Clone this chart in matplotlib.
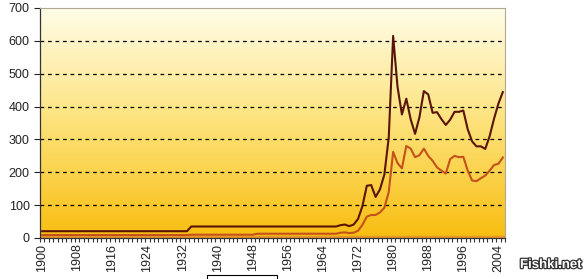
import numpy as np
import matplotlib
matplotlib.use('Agg')
import matplotlib.pyplot as plt
import matplotlib.patheffects as pe
from matplotlib.colors import LinearSegmentedColormap
from matplotlib.patches import Rectangle

plt.rcParams['font.family'] = ['Liberation Sans', 'DejaVu Sans']

years = list(range(1900, 2006))

# upper (dark) series, 1900-2005
dark = [20.7, 20.7, 20.7, 20.7, 20.7, 20.7, 20.7, 20.7, 20.7, 20.7,
        20.7, 20.7, 20.7, 20.7, 20.7, 20.7, 20.7, 20.7, 20.7, 20.7,
        20.7, 20.7, 20.7, 20.7, 20.7, 20.7, 20.7, 20.7, 20.7, 20.7,
        20.7, 20.7, 20.7, 20.7, 35, 35, 35, 35, 35, 35,
        35, 35, 35, 35, 35, 35, 35, 35, 35, 35,
        35, 35, 35, 35, 35, 35, 35, 35, 35, 35,
        35, 35, 35, 35, 35, 35, 35, 35, 39, 41,
        36, 41, 58, 97, 159, 161, 125, 148, 193, 306,
        615, 460, 376, 424, 361, 317, 368, 447, 437, 381,
        383, 362, 344, 360, 384, 384, 388, 331, 294, 279,
        279, 271, 310, 363, 409, 444]

# lower (orange) series, 1900-2005
light = [9, 9, 9, 9, 9, 9, 9, 9, 9, 9,
         9, 9, 9, 9, 9, 9, 9, 9, 9, 9,
         9, 9, 9, 9, 9, 9, 9, 9, 9, 9,
         9, 9, 9, 9, 10, 10, 10, 10, 10, 10,
         10, 10, 10, 10, 10, 10, 10, 10, 10, 13,
         13, 13, 13, 13, 13, 13, 13, 13, 13, 13,
         13, 13, 13, 13, 13, 13, 13, 13, 16, 17,
         15, 16, 22, 40, 65, 70, 70, 78, 92, 140,
         262, 228, 212, 280, 272, 246, 252, 272, 250, 235,
         215, 205, 196, 240, 250, 246, 247, 205, 175, 173,
         182, 190, 205, 222, 226, 245]

label_years = list(range(1900, 2006, 8))

fig = plt.figure(figsize=(5.87, 2.79), dpi=100)
fig.patch.set_facecolor('white')
ax = fig.add_axes([40 / 587, 41 / 279, 465 / 587, 230 / 279])

x = np.arange(len(years))
ax.set_xlim(-0.5, len(years) - 0.5)
ax.set_ylim(0, 700)

# yellow gradient background
cmap = LinearSegmentedColormap.from_list('bg', ['#f8be10', '#fde27a', '#fffde8'])
grad = np.linspace(0, 1, 256).reshape(-1, 1)
ax.imshow(grad, extent=(-0.5, len(years) - 0.5, 0, 700), origin='lower',
          aspect='auto', cmap=cmap, zorder=0)
ax.axhspan(0, 7, color='#e8962c', zorder=1)

for v in range(100, 700, 100):
    ax.axhline(v, color='black', lw=0.9, ls=(0, (3, 3)), zorder=2)

ax.plot(x, light, color='#c4521a', lw=1.5, zorder=3)
ax.plot(x, dark, color='#5a1408', lw=1.5, zorder=4)

ax.set_yticks(range(0, 701, 100))
ax.set_xticks([years.index(y) for y in label_years])
ax.set_xticklabels([str(y) for y in label_years], rotation=90)
ax.set_xticks(np.arange(-0.5, len(years)), minor=True)
ax.tick_params(axis='x', which='major', length=0, pad=4, labelsize=9, colors='#222222')
ax.tick_params(axis='x', which='minor', length=3, width=0.8, direction='out', color='#333333')
ax.tick_params(axis='y', length=4, width=0.8, labelsize=9, colors='#222222')
for lbl in ax.get_xticklabels() + ax.get_yticklabels():
    lbl.set_color('#222222')

for s in ['left', 'bottom']:
    ax.spines[s].set_color('#333333')
    ax.spines[s].set_linewidth(0.9)
for s in ['top', 'right']:
    ax.spines[s].set_color('#b0a890')
    ax.spines[s].set_linewidth(0.8)

# partially visible legend box at the bottom
fig.patches.append(Rectangle((207 / 587, -0.01), 70 / 587, 6.5 / 279, transform=fig.transFigure,
                             fill=False, ec='black', lw=0.8, clip_on=False))

fig.text(551 / 587, 1 - 265 / 279, 'Fishki.net', ha='center', va='center', fontsize=9.5,
         color='white', fontweight='bold',
         path_effects=[pe.withStroke(linewidth=1.8, foreground='#333333')])

fig.savefig('out.png', dpi=100)
